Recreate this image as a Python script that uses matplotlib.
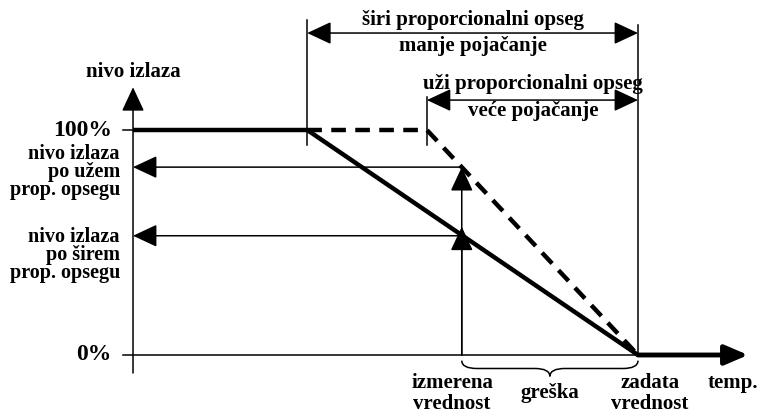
import matplotlib.pyplot as plt
from matplotlib.path import Path
from matplotlib.patches import PathPatch

plt.rcParams['font.family'] = ['Liberation Serif', 'DejaVu Serif']
plt.rcParams['font.weight'] = 'bold'

# temperatura (proizvoljne jedinice) i nivo izlaza (%)
setpoint = 10.0        # zadata vrednost
measured = 6.51        # izmerena vrednost
wide_start = 3.45      # pocetak sireg proporcionalnog opsega
narrow_start = 5.82    # pocetak uzeg proporcionalnog opsega
out_wide = 53.0        # nivo izlaza po sirem opsegu
out_narrow = 83.5      # nivo izlaza po uzem opsegu
temp_end = 12.18
level_top = 119.0

wide_x = [0, wide_start, setpoint]
wide_y = [100, 100, 0]
narrow_x = [wide_start, narrow_start, setpoint]
narrow_y = [100, 100, 0]

fig = plt.figure(figsize=(7.6, 4.15), dpi=100)
ax = fig.add_axes([0, 0, 1, 1])
ax.set_xlim(-2.634, 12.416)
ax.set_ylim(-26.67, 157.78)
ax.axis('off')

thin = 1.1
head = dict(arrowstyle='-|>,head_length=1.5,head_width=0.7', color='black',
            lw=thin, shrinkA=0, shrinkB=0, mutation_scale=10)
both = dict(head, arrowstyle='<|-|>,head_length=1.5,head_width=0.7')

# ose
ax.annotate('', xy=(0, level_top), xytext=(0, -8), arrowprops=head)
ax.plot([-0.2, 0], [100, 100], color='black', lw=thin)
ax.plot([-0.2, setpoint], [0, 0], color='black', lw=thin)
ax.annotate('', xy=(temp_end, 0), xytext=(setpoint, 0),
            arrowprops=dict(arrowstyle='-|>,head_length=1.4,head_width=0.6',
                            color='black', lw=3.5, shrinkA=0, shrinkB=0,
                            mutation_scale=10))

# kote opsega
ax.plot([wide_start, wide_start], [93.3, 148.9], color='black', lw=thin)
ax.plot([setpoint, setpoint], [0, 146.7], color='black', lw=thin)
ax.plot([narrow_start, narrow_start], [93.3, 114.7], color='black', lw=thin)
ax.annotate('', xy=(wide_start, 143.1), xytext=(setpoint, 143.1), arrowprops=both)
ax.annotate('', xy=(narrow_start, 113.3), xytext=(setpoint, 113.3), arrowprops=both)

# nivoi izlaza
ax.annotate('', xy=(0, out_narrow), xytext=(measured, out_narrow), arrowprops=head)
ax.annotate('', xy=(0, out_wide), xytext=(measured, out_wide), arrowprops=head)
ax.annotate('', xy=(measured, out_narrow), xytext=(measured, 0), arrowprops=head)
ax.annotate('', xy=(measured, out_wide + 4), xytext=(measured, 0), arrowprops=head)

# karakteristike
ax.plot(wide_x, wide_y, color='black', lw=3.2, solid_capstyle='butt', zorder=3)
ax.plot(narrow_x, narrow_y, color='black', lw=3.2, dashes=(3.3, 2.1),
        dash_capstyle='butt', zorder=3)

# viticasta zagrada (greska)
x0, x1 = measured, setpoint
xm = (x0 + x1) / 2
ytop, ymid, ybot = -2.5, -6.0, -9.5
q = 0.3
verts = [(x0, ytop), (x0, ymid), (x0 + q, ymid), (xm - q, ymid),
         (xm, ymid), (xm, ybot), (xm, ymid), (xm + q, ymid),
         (x1 - q, ymid), (x1, ymid), (x1, ytop)]
codes = [Path.MOVETO, Path.CURVE3, Path.CURVE3, Path.LINETO,
         Path.CURVE3, Path.CURVE3, Path.CURVE3, Path.CURVE3,
         Path.LINETO, Path.CURVE3, Path.CURVE3]
ax.add_patch(PathPatch(Path(verts, codes), facecolor='none',
                       edgecolor='black', lw=thin))

# tekstovi
fs = 15
ax.text(0, 125.8, 'nivo izlaza', ha='center', va='center', fontsize=fs)
ax.text(-0.42, 100, '100%', ha='right', va='center', fontsize=17)
ax.text(-0.42, 0, '0%', ha='right', va='center', fontsize=17)
ax.text(-0.26, 81.3, 'nivo izlaza\npo užem\nprop. opsegu', ha='right',
        va='center', fontsize=14.5, linespacing=0.85)
ax.text(-0.26, 44.4, 'nivo izlaza\npo širem\nprop. opsegu', ha='right',
        va='center', fontsize=14.5, linespacing=0.85)
ax.text(6.73, 148.9, 'širi proporcionalni opseg', ha='center', va='center', fontsize=fs)
ax.text(6.73, 137.3, 'manje pojačanje', ha='center', va='center', fontsize=fs)
ax.text(7.92, 120.4, 'uži proporcionalni opseg', ha='center', va='center', fontsize=fs)
ax.text(7.92, 108.4, 'veće pojačanje', ha='center', va='center', fontsize=fs)
ax.text(6.32, -8.0, 'izmerena\nvrednost', ha='center', va='top', fontsize=fs,
        linespacing=1.1)
ax.text(8.26, -17.0, 'greška', ha='center', va='center', fontsize=fs)
ax.text(10.24, -8.0, 'zadata\nvrednost', ha='center', va='top', fontsize=fs,
        linespacing=1.1)
ax.text(11.88, -8.0, 'temp.', ha='center', va='top', fontsize=fs)

fig.savefig('out.png', dpi=100)
